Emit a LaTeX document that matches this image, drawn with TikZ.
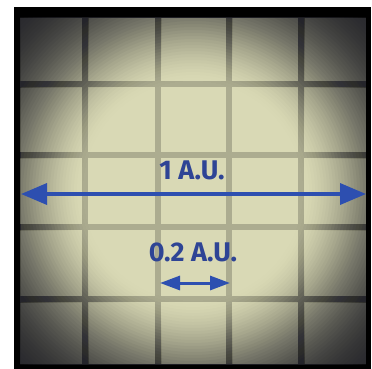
\documentclass[tikz,border=0pt]{standalone}
\usepackage{fontspec}
\newfontfamily\labfont{Fira Sans}
\usetikzlibrary{arrows.meta}
\definecolor{tilebeige}{HTML}{D9D9B5}
\definecolor{linecenter}{HTML}{ACAC90}
\definecolor{vigdark}{HTML}{24242A}
\definecolor{arrowblue}{HTML}{2D4FB0}
\definecolor{textblue}{HTML}{2E4495}
\tikzset{
  bigarrow/.style={draw=arrowblue, line width=3.5pt, {Triangle[length=26pt,width=21pt]}-{Triangle[length=26pt,width=21pt]}},
  smallarrow/.style={draw=arrowblue, line width=3pt, {Triangle[length=20pt,width=14pt]}-{Triangle[length=20pt,width=14pt]}},
  lab/.style={text=textblue, font=\labfont\bfseries\fontsize{27}{30}\selectfont, inner sep=0pt},
  gridline/.style={draw=linecenter, line width=6pt},
  ring/.style={fill=vigdark, even odd rule}
}
\newcommand{\vigrings}{%
  \foreach \r in {110,113,...,251} {%
    \pgfmathsetmacro\op{min(0.9,0.002+0.00088*(\r-110))}%
    \fill[ring, opacity=\op] (20,18) rectangle (366,364) (193,191) circle (\r);
  }%
}
\begin{document}
\begin{tikzpicture}[x=1pt,y=-1pt]
\useasboundingbox (0,0) rectangle (372,369);
% frame
\fill[black] (14,7) rectangle (371,369);
\fill[tilebeige] (20,18) rectangle (366,364);
% grid lines
\foreach \gx in {85,158,229,301} \draw[gridline] (\gx,18) -- (\gx,364);
\foreach \gy in {84,155,227,299} \draw[gridline] (20,\gy) -- (366,\gy);
% vignette on tiles
\begin{scope}
  \clip (20,18) rectangle (366,364);
  \vigrings
\end{scope}
% extra darkening of grid lines
\begin{scope}
  \clip (82,18) rectangle (88,364)
        (155,18) rectangle (161,364)
        (226,18) rectangle (232,364)
        (298,18) rectangle (304,364)
        (20,81) rectangle (366,87)
        (20,152) rectangle (366,158)
        (20,224) rectangle (366,230)
        (20,296) rectangle (366,302);
  \vigrings
\end{scope}
% arrows and labels
\coordinate (bl) at (21,194);
\coordinate (br) at (366,194);
\coordinate (sl) at (160,283);
\coordinate (sr) at (230,283);
\draw[bigarrow] (bl) -- (br);
\draw[smallarrow] (sl) -- (sr);
\node[lab] (one) at (192,170) {1 A.U.};
\node[lab] (two) at (193,252) {0.2 A.U.};
\end{tikzpicture}
\end{document}
